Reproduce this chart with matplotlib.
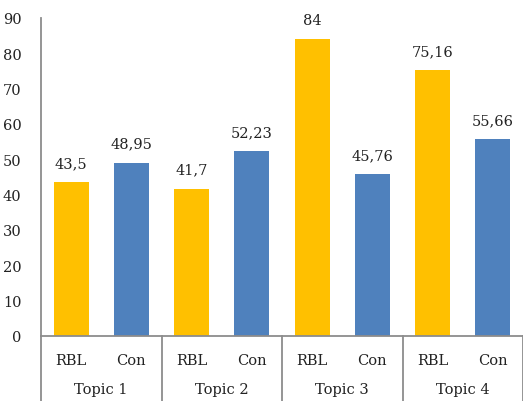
import numpy as np
import matplotlib.pyplot as plt
import matplotlib.transforms as mtransforms

topics = ["Topic 1", "Topic 2", "Topic 3", "Topic 4"]
groups = ["RBL", "Con"]
rbl = [43.5, 41.7, 84, 75.16]
con = [48.95, 52.23, 45.76, 55.66]

plt.rcParams['font.family'] = ['DejaVu Serif']
fig = plt.figure(figsize=(5.23, 4.02), dpi=100)
ax = fig.add_axes([41 / 523, 65 / 402, 1 - 41 / 523, 318 / 402])

yellow = '#FFC000'
blue = '#4F81BD'
gray = '#8C8C8C'

xpos = []
vals = []
cols = []
ticklabels = []
for i in range(len(topics)):
    xpos += [2 * i, 2 * i + 1]
    vals += [rbl[i], con[i]]
    cols += [yellow, blue]
    ticklabels += groups
xpos = np.array(xpos)

ax.bar(xpos, vals, width=0.58, color=cols, zorder=2)
for x, v in zip(xpos, vals):
    ax.annotate(f"{v:g}".replace('.', ','), (x, v), xytext=(0, 9), textcoords='offset points',
                ha='center', va='bottom', fontsize=10.5, color='#222222')

ax.set_xlim(-0.5, 7.5)
ax.set_ylim(0, 90)
ax.set_yticks(np.arange(0, 91, 10))
ax.set_xticks(xpos)
ax.set_xticklabels(ticklabels)
ax.tick_params(axis='x', length=0, pad=12, labelsize=10.5, colors='#222222')
ax.tick_params(axis='y', length=0, pad=14, labelsize=10.5, colors='#222222')

for s in ['top', 'right']:
    ax.spines[s].set_visible(False)
ax.spines['left'].set_color(gray)
ax.spines['bottom'].set_color(gray)
ax.spines['left'].set_linewidth(1.3)
ax.spines['bottom'].set_linewidth(1.3)

trans = mtransforms.blended_transform_factory(ax.transData, ax.transAxes)
for i in range(len(topics) + 1):
    ax.plot([2 * i - 0.5, 2 * i - 0.5], [0, -0.21], transform=trans, color=gray,
            lw=1.3, clip_on=False)
for i, t in enumerate(topics):
    ax.text(2 * i + 0.5, -0.166, t, transform=trans, ha='center', va='center',
            fontsize=10.5, color='#222222')

fig.savefig('out.png', dpi=100)
